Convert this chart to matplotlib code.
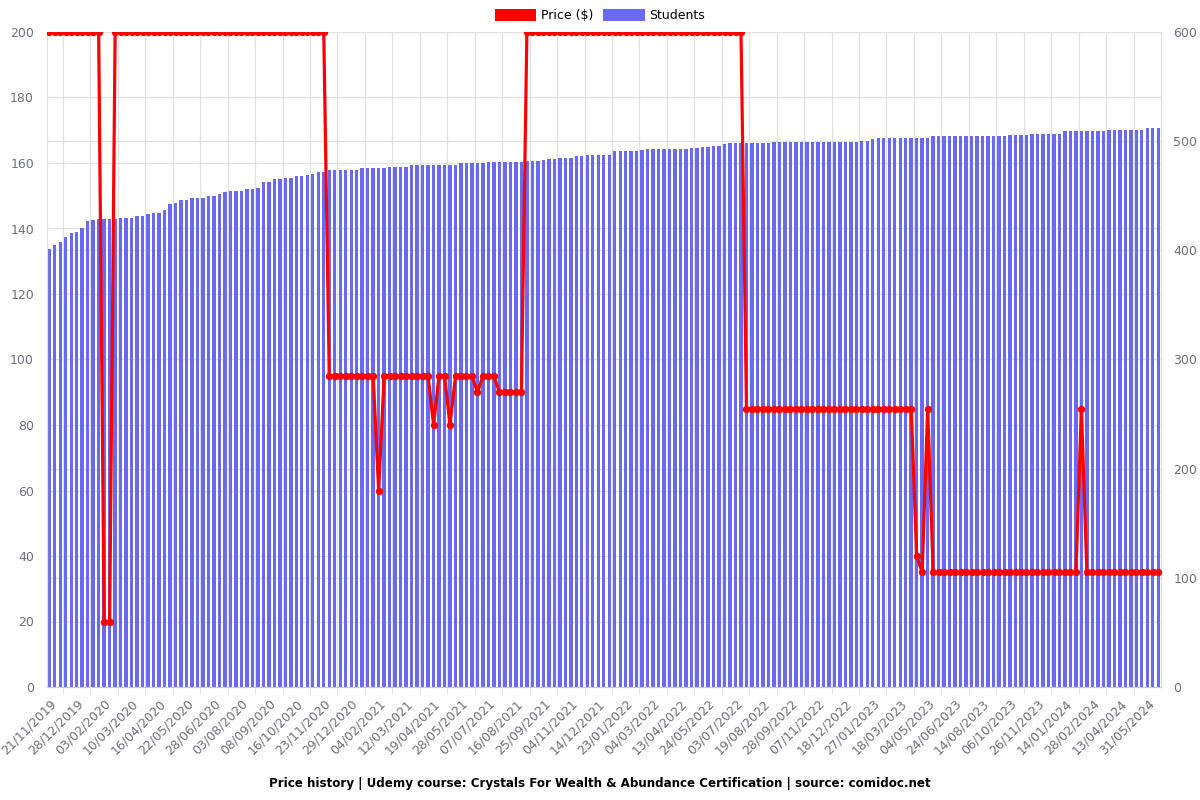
import matplotlib
matplotlib.use('Agg')
import matplotlib.pyplot as plt
from matplotlib.patches import Patch

# one value per snapshot (203 snapshots)
price = ([200] * 10 + [20] * 2 + [200] * 39 + [95] * 9 + [60] + [95] * 9 + [80] + [95] * 2 + [80]
         + [95] * 4 + [90] + [95] * 3 + [90] * 5 + [200] * 40 + [85] * 31 + [40, 35, 85]
         + [35] * 27 + [85] + [35] * 14)

students = ([401, 405, 408, 412, 416, 417, 420, 427, 428] + [429] * 4 + [430] * 3 + [431] * 2 + [433]
            + [434] * 2 + [437, 442, 443] + [446] * 2 + [448] * 3 + [450] * 2 + [452, 453] + [454] * 3
            + [456] * 2 + [457] + [463] * 2 + [465] * 2 + [466] * 2 + [468] * 2 + [469, 470] + [472] * 2
            + [474] * 6 + [475] * 5 + [476] * 4 + [478] * 9 + [480] * 5 + [481] * 7 + [482] * 3 + [483]
            + [484] * 2 + [485] * 3 + [486] * 2 + [487] * 5 + [491] * 5 + [492] + [493] * 8 + [494] * 2
            + [495] * 2 + [496] * 2 + [497] + [498] * 8 + [499] * 16 + [500] * 2 + [502] + [503] * 10
            + [505] * 14 + [506] * 4 + [507] * 6 + [509] * 8 + [510] * 7 + [512] * 3)

tick_labels = ['21/11/2019', '28/12/2019', '03/02/2020', '10/03/2020', '16/04/2020', '22/05/2020',
               '28/06/2020', '03/08/2020', '08/09/2020', '16/10/2020', '23/11/2020', '29/12/2020',
               '04/02/2021', '12/03/2021', '19/04/2021', '28/05/2021', '07/07/2021', '16/08/2021',
               '25/09/2021', '04/11/2021', '14/12/2021', '23/01/2022', '04/03/2022', '13/04/2022',
               '24/05/2022', '03/07/2022', '19/08/2022', '28/09/2022', '07/11/2022', '18/12/2022',
               '27/01/2023', '18/03/2023', '04/05/2023', '24/06/2023', '14/08/2023', '06/10/2023',
               '26/11/2023', '14/01/2024', '28/02/2024', '13/04/2024', '31/05/2024']

n = len(price)
x = list(range(n))
label_pos = list(range(0, n, 5))[:len(tick_labels)]

grey = '#6e7079'
gridc = '#e0e0e0'
barc = '#6a6af0'

fig = plt.figure(figsize=(12, 8), dpi=100)
ax = fig.add_axes([46.5 / 1200, 1 - 687 / 800, (1161 - 46.5) / 1200, 655 / 800])
ax2 = ax.twinx()

# bars on right axis, drawn underneath the price line
ax2.bar(x, students, width=0.62, color=barc, zorder=2)
for v in range(60, 601, 60):
    ax2.axhline(v, color=gridc, lw=0.9, zorder=0)
for v in range(100, 601, 100):
    ax2.axhline(v, color=gridc, lw=0.9, zorder=0)
for xv in range(3, n, 5):
    ax2.axvline(xv - 0.5, color=gridc, lw=0.9, zorder=0)

ax.plot(x, price, color='red', lw=2.3, marker='o', ms=4.3, zorder=3)
ax.set_zorder(ax2.get_zorder() + 1)
ax.patch.set_visible(False)

ax.set_xlim(-0.5, n - 0.5)
ax.set_ylim(0, 200)
ax2.set_ylim(0, 600)
ax.set_yticks(range(0, 201, 20))
ax2.set_yticks(range(0, 601, 100))

ax.set_xticks(label_pos)
ax.set_xticklabels(tick_labels, rotation=45, ha='right', rotation_mode='anchor')
ax.set_xticks([v - 0.5 for v in range(3, n, 5)], minor=True)
ax.tick_params(axis='x', which='major', length=0, pad=7, labelsize=9, labelcolor=grey)
ax.tick_params(axis='x', which='minor', length=5, color=gridc)
ax.tick_params(axis='y', length=0, pad=9, labelsize=9, labelcolor=grey)
ax2.tick_params(axis='y', length=0, pad=9, labelsize=9, labelcolor=grey)

for a in (ax, ax2):
    a.spines['top'].set_visible(False)
    a.spines['left'].set_color(gridc)
    a.spines['right'].set_color(gridc)
    a.spines['bottom'].set_color('#cccccc')

fig.legend(handles=[Patch(facecolor='red', label='Price ($)'), Patch(facecolor=barc, label='Students')],
           loc='upper center', bbox_to_anchor=(0.5, 1.003), ncol=2, frameon=False, fontsize=9,
           handlelength=3.3, handleheight=1.1, columnspacing=0.8, handletextpad=0.4)

fig.text(0.5, 1 - 783 / 800,
         'Price history | Udemy course: Crystals For Wealth & Abundance Certification | source: comidoc.net',
         ha='center', va='center', fontsize=8.6, fontweight='bold')

fig.savefig('out.png', dpi=100)
